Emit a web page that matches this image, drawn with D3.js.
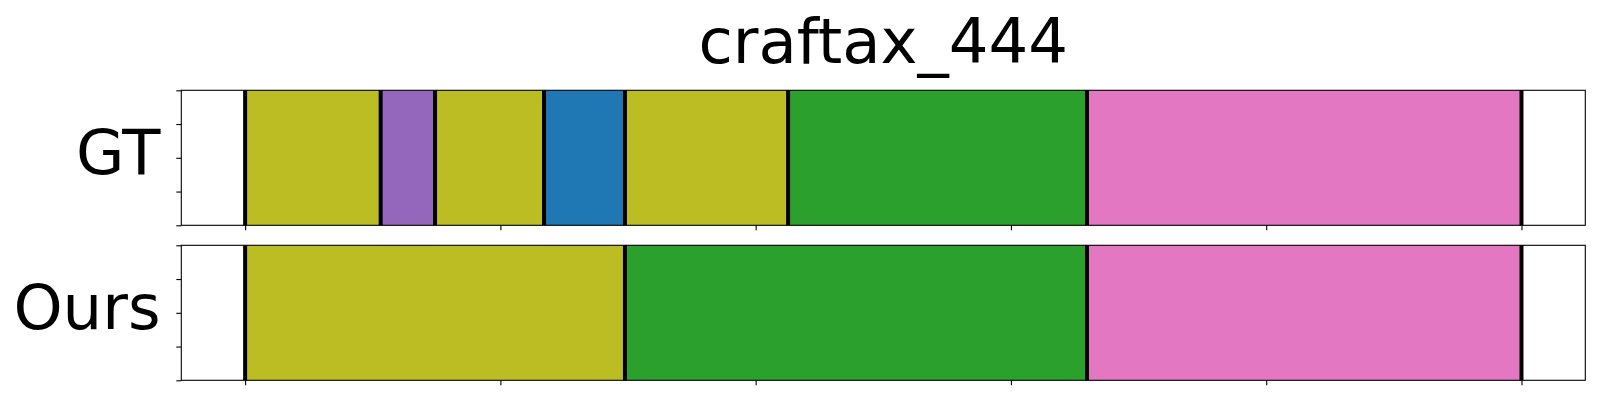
<!DOCTYPE html>
<html>
<head>
<meta charset="utf-8">
<script src="https://cdn.jsdelivr.net/npm/d3@7"></script>
<style>
  html, body { margin: 0; padding: 0; background: #fff; }
  svg { display: block; font-family: "DejaVu Sans", sans-serif; }
</style>
</head>
<body>
<svg id="chart" width="1600" height="400"></svg>
<script>
// ---- data ----
const title = "craftax_444";
const rowLabels = ["GT", "Ours"];
const totalLength = 500;
const gtBounds = [0, 53.1, 74.4, 117.1, 148.8, 212.7, 329.8, 500];
const gtClasses = [8, 4, 8, 0, 8, 2, 6];
const oursBounds = [0, 148.8, 329.8, 500];
const oursClasses = [8, 2, 6];
const xTicks = [0, 100, 200, 300, 400, 500];
const yTicks = [0, 0.25, 0.5, 0.75, 1];

// ---- layout ----
const svg = d3.select("#chart");
const left = 181.3, right = 1585.3;
const rows = [
  { label: rowLabels[0], bounds: gtBounds, classes: gtClasses, top: 90.3, bottom: 225.3 },
  { label: rowLabels[1], bounds: oursBounds, classes: oursClasses, top: 245.3, bottom: 380.3 }
];
const margin = 0.05 * totalLength;
const x = d3.scaleLinear().domain([-margin, totalLength + margin]).range([left, right]);
const color = i => d3.schemeCategory10[i];

rows.forEach(row => {
  const y = d3.scaleLinear().domain([0, 1]).range([row.bottom, row.top]);
  const g = svg.append("g");
  const segs = row.classes.map((c, i) => ({ start: row.bounds[i], end: row.bounds[i + 1], cls: c }));

  g.selectAll("rect.seg").data(segs).enter().append("rect")
    .attr("class", "seg")
    .attr("x", d => x(d.start))
    .attr("width", d => x(d.end) - x(d.start))
    .attr("y", y(1))
    .attr("height", y(0) - y(1))
    .attr("fill", d => color(d.cls));

  g.selectAll("line.bound").data(row.bounds).enter().append("line")
    .attr("class", "bound")
    .attr("x1", d => x(d)).attr("x2", d => x(d))
    .attr("y1", y(0)).attr("y2", y(1))
    .attr("stroke", "#000").attr("stroke-width", 4);

  // axes
  const xAxis = d3.axisBottom(x).tickValues(xTicks).tickSize(5).tickFormat("");
  const yAxis = d3.axisLeft(y).tickValues(yTicks).tickSize(5).tickFormat("");
  const gx = g.append("g").attr("transform", `translate(0,${row.bottom})`).call(xAxis);
  const gy = g.append("g").attr("transform", `translate(${left},0)`).call(yAxis);
  [gx, gy].forEach(a => {
    a.select(".domain").remove();
    a.selectAll(".tick line").attr("stroke", "#000").attr("stroke-width", 1.1);
  });

  // frame
  g.append("rect")
    .attr("x", left).attr("y", row.top)
    .attr("width", right - left).attr("height", row.bottom - row.top)
    .attr("fill", "none").attr("stroke", "#000").attr("stroke-width", 1.1);

  g.append("text")
    .attr("x", 160.5)
    .attr("y", (row.top + row.bottom) / 2 + 16)
    .attr("text-anchor", "end")
    .attr("font-size", 62.5)
    .attr("fill", "#000")
    .text(row.label);
});

svg.append("text")
  .attr("x", (left + right) / 2)
  .attr("y", 63.3)
  .attr("text-anchor", "middle")
  .attr("font-size", 62.5)
  .attr("fill", "#000")
  .text(title);
</script>
</body>
</html>
